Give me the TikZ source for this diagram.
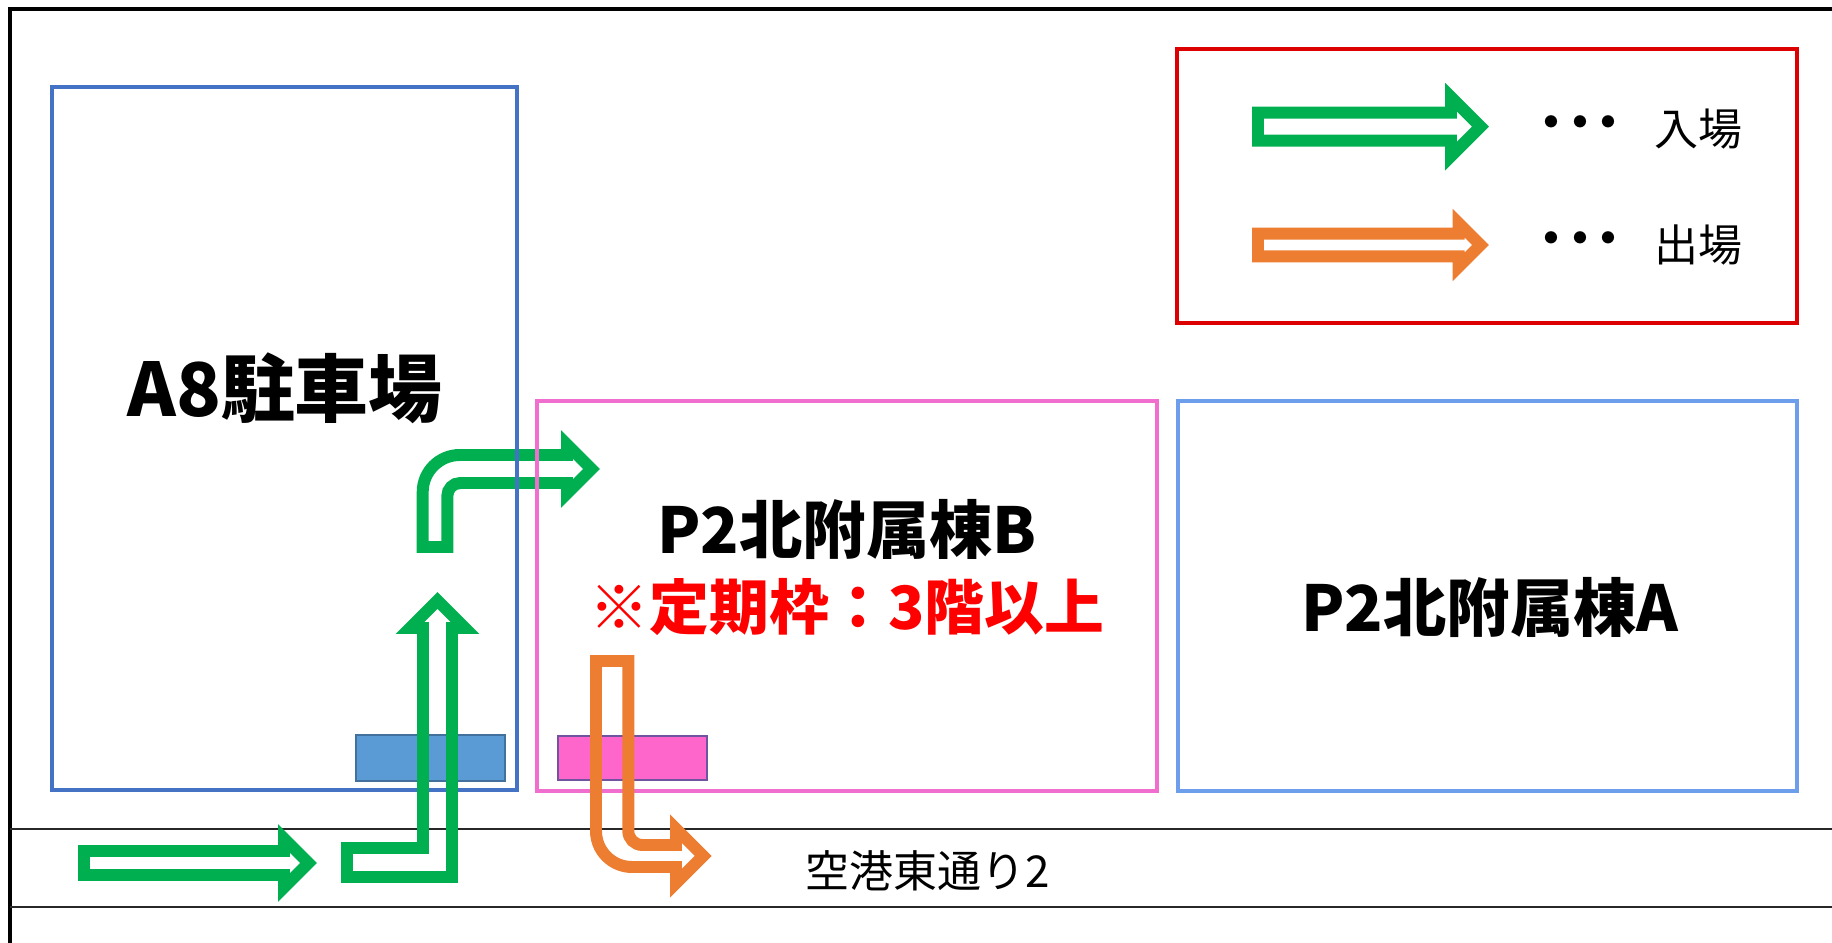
\documentclass[tikz,border=0pt]{standalone}
\usepackage{fontspec}
\newfontfamily\jp{Noto Sans CJK JP}
\definecolor{entrygreen}{RGB}{0,176,80}
\definecolor{exitorange}{RGB}{237,125,49}
\definecolor{lotblue}{RGB}{68,114,196}
\definecolor{gateblue}{RGB}{91,155,213}
\definecolor{gateblueline}{RGB}{65,113,156}
\definecolor{bldgpink}{RGB}{240,110,205}
\definecolor{gatepink}{RGB}{255,102,204}
\definecolor{gatepinkline}{RGB}{112,84,160}
\definecolor{bldgblue}{RGB}{109,158,235}
\definecolor{legendred}{RGB}{220,0,0}
\definecolor{notered}{RGB}{255,0,0}
\definecolor{roadline}{RGB}{40,40,40}

\begin{document}
\begin{tikzpicture}[
    x=0.01cm, y=-0.01cm,
    every node/.style={inner sep=0pt, font=\jp},
    lot/.style={line width=1pt},
    gate/.style={line width=0.5pt},
    hollow/.style={line width=3.4pt, line join=miter},
    road/.style={line width=0.7pt, draw=roadline},
    lotname/.style={font=\jp\bfseries\fontsize{21pt}{25pt}\selectfont},
    bldgname/.style={font=\jp\bfseries\fontsize{18pt}{22pt}\selectfont},
    note/.style={font=\jp\bfseries\fontsize{17pt}{20pt}\selectfont, text=notered},
    small/.style={font=\jp\fontsize{12.5pt}{15pt}\selectfont},
    keydots/.style={font=\jp\bfseries\fontsize{12.5pt}{15pt}\selectfont}
]
\useasboundingbox (0,0) rectangle (1832,943);
\clip (0,0) rectangle (1832,943);

% frame and road
\draw[line width=1.4pt] (10,9) rectangle (1845,946.5);
\draw[road] (10,829) -- (1832,829);
\draw[road] (10,907) -- (1832,907);

% turn into P2 north annex B
\draw[hollow, entrygreen] (422.7,547) -- (422.7,492)
    .. controls (422.7,471.6) and (439.3,455) .. (459.7,455)
    -- (567,455) -- (567,444.5) -- (591.5,469) -- (567,493.5) -- (567,483)
    -- (460.3,483) .. controls (453.1,483) and (447.3,488.8) .. (447.3,496)
    -- (447.3,547) -- cycle;

% lots and buildings
\draw[lot, lotblue] (52,87) rectangle (517,790);
\draw[lot, bldgpink] (537,401) rectangle (1157,791);
\draw[line width=1.2pt, bldgblue] (1178,401) rectangle (1797,791);
\draw[gate, draw=gateblueline, fill=gateblue] (356,735) rectangle (505,781);
\draw[gate, draw=gatepinkline, fill=gatepink] (558,736) rectangle (707,780);

% entry and exit
\draw[hollow, entrygreen] (84,851) -- (284,851) -- (284,838.5) -- (308.5,863)
    -- (284,887.5) -- (284,875) -- (84,875) -- cycle;
\draw[hollow, entrygreen] (347,877) -- (347,848) -- (423,848) -- (423,628)
    -- (410,628) -- (437.5,600.5) -- (465,628) -- (452,628) -- (452,877) -- cycle;
\draw[hollow, exitorange] (596,661) -- (628.3,661) -- (628.3,831)
    .. controls (628.3,838.7) and (634.6,845) .. (642.3,845)
    -- (676,845) -- (676,828.8) -- (703.2,856) -- (676,883.2) -- (676,867)
    -- (632,867) .. controls (612.1,867) and (596,850.9) .. (596,831) -- cycle;

\node[lotname] (a8name) at (285,388) {A8駐車場};
\node[bldgname] (p2bname) at (847,529) {P2北附属棟B};
\node[note] (p2bnote) at (847,607) {※定期枠：3階以上};
\node[bldgname] (p2aname) at (1490,607) {P2北附属棟A};
\node[small] (roadname) at (928,871) {空港東通り2};

% legend
\draw[line width=1.2pt, legendred] (1177,49) rectangle (1797,323);
\draw[hollow, entrygreen] (1258,112.7) -- (1451,112.7) -- (1451,97.2) -- (1480.5,126.7)
    -- (1451,156.2) -- (1451,140.7) -- (1258,140.7) -- cycle;
\draw[hollow, exitorange] (1258,233.7) -- (1458.7,233.7) -- (1458.7,223.2) -- (1480.5,245)
    -- (1458.7,266.8) -- (1458.7,256.3) -- (1258,256.3) -- cycle;
\node[keydots] (keydotsin) at (1580,127) {・\kern-.35em・\kern-.35em・};
\node[small] (keyin) at (1698,129) {入場};
\node[keydots] (keydotsout) at (1580,243) {・\kern-.35em・\kern-.35em・};
\node[small] (keyout) at (1698,245) {出場};
\end{tikzpicture}
\end{document}
